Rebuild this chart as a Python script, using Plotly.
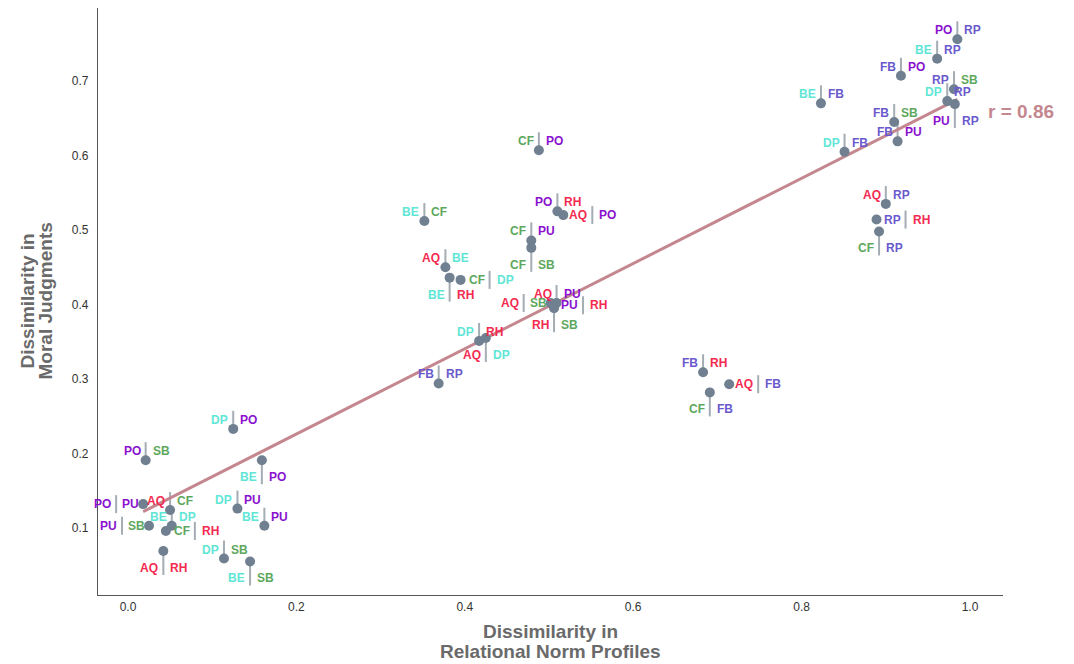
import numpy as np
import plotly.graph_objects as go

# Pairwise dissimilarities between relationship types
pair_left = ["PO", "DP", "BE", "PO", "AQ", "PU", "BE", "CF", "AQ", "DP", "BE", "DP", "BE",
             "BE", "PO", "AQ", "CF", "CF", "AQ", "BE", "CF", "AQ", "AQ", "PU", "RH",
             "DP", "AQ", "FB", "FB", "AQ", "CF", "AQ", "RP", "CF",
             "PO", "BE", "FB", "BE", "RP", "DP", "PU", "FB", "FB", "DP", "CF"]
pair_right = ["SB", "PO", "PO", "PU", "CF", "SB", "DP", "RH", "RH", "PU", "PU", "SB", "SB",
              "CF", "RH", "PO", "PU", "SB", "BE", "RH", "DP", "PU", "SB", "RH", "SB",
              "RH", "DP", "RP", "RH", "FB", "FB", "RP", "RH", "RP",
              "RP", "RP", "PO", "FB", "SB", "RP", "RP", "SB", "PU", "FB", "PO"]
norm_dissim = [0.021, 0.125, 0.159, 0.018, 0.050, 0.025, 0.052, 0.045, 0.042, 0.130, 0.162, 0.114, 0.145,
               0.352, 0.510, 0.517, 0.479, 0.479, 0.377, 0.382, 0.395, 0.509, 0.502, 0.506, 0.506,
               0.417, 0.425, 0.369, 0.683, 0.714, 0.691, 0.900, 0.889, 0.892,
               0.985, 0.961, 0.918, 0.823, 0.981, 0.973, 0.982, 0.910, 0.914, 0.851, 0.488]
moral_dissim = [0.191, 0.233, 0.191, 0.132, 0.124, 0.103, 0.103, 0.096, 0.069, 0.126, 0.103, 0.059, 0.055,
                0.512, 0.525, 0.520, 0.486, 0.476, 0.450, 0.436, 0.433, 0.402, 0.402, 0.399, 0.395,
                0.351, 0.355, 0.294, 0.309, 0.293, 0.282, 0.535, 0.514, 0.498,
                0.756, 0.730, 0.707, 0.670, 0.689, 0.673, 0.669, 0.645, 0.619, 0.605, 0.607]
label_side = ["up", "up", "down", "left", "up", "left", "up", "right", "down", "up", "up", "up", "down",
              "up", "up", "right", "up", "down", "up", "down", "right", "up", "left", "right", "down",
              "up", "down", "up", "up", "right", "down", "up", "right", "down",
              "up", "up", "up", "up", "up", "up", "down", "up", "up", "up", "up"]

x_ticks = [0.0, 0.2, 0.4, 0.6, 0.8, 1.0]
y_ticks = [0.1, 0.2, 0.3, 0.4, 0.5, 0.6, 0.7]
x_title = ["Dissimilarity in", "Relational Norm Profiles"]
y_title = ["Dissimilarity in", "Moral Judgments"]
r_value = 0.86

code_colors = {
    "PO": "#8a12cf", "PU": "#8a12cf",
    "RP": "#6a5acd", "FB": "#6a5acd",
    "BE": "#5fe6d6", "DP": "#5fe6d6",
    "SB": "#5ea85e", "CF": "#5ea85e",
    "AQ": "#f42a50", "RH": "#f42a50",
}
fit_color = "#c4878f"
point_color = "#708090"
sep_color = "#a4acb4"
title_color = "#6a6a6a"

fig = go.Figure()

# least-squares fit across the observed range
xs = np.array(norm_dissim)
ys = np.array(moral_dissim)
slope, intercept = np.polyfit(xs, ys, 1)
fx = np.array([xs.min(), xs.max()])
fig.add_trace(go.Scatter(x=fx, y=slope * fx + intercept, mode="lines",
                         line=dict(color=fit_color, width=3), hoverinfo="skip",
                         showlegend=False))

fig.add_trace(go.Scatter(x=norm_dissim, y=moral_dissim, mode="markers",
                         marker=dict(color=point_color, size=10, line=dict(width=0)),
                         showlegend=False))

# label geometry per side: separator (x, y0, y1) and text offsets, in pixels
geom = {
    "up":    dict(sx=0,   sy0=0,  sy1=18,  ty=9,   lx=-4,  rx=6),
    "down":  dict(sx=0,   sy0=0,  sy1=-24, ty=-17, lx=-4,  rx=6),
    "right": dict(sx=29,  sy0=-9, sy1=9,   ty=0,   lx=25,  rx=35),
    "left":  dict(sx=-27, sy0=-9, sy1=9,   ty=0,   lx=-31, rx=-22),
}

shapes = []
annotations = []
label_font = "Liberation Sans, Arial, sans-serif"
for xv, yv, a, b, side in zip(norm_dissim, moral_dissim, pair_left, pair_right, label_side):
    g = geom[side]
    shapes.append(dict(type="line", xref="x", yref="y", xsizemode="pixel", ysizemode="pixel",
                       xanchor=xv, yanchor=yv, x0=g["sx"], x1=g["sx"], y0=g["sy0"], y1=g["sy1"],
                       line=dict(color=sep_color, width=2), layer="below"))
    annotations.append(dict(x=xv, y=yv, xref="x", yref="y", text=f"<b>{a}</b>", showarrow=False,
                            xanchor="right", yanchor="middle", xshift=g["lx"], yshift=g["ty"],
                            borderpad=0,
                            font=dict(family=label_font, size=12, color=code_colors[a])))
    annotations.append(dict(x=xv, y=yv, xref="x", yref="y", text=f"<b>{b}</b>", showarrow=False,
                            xanchor="left", yanchor="middle", xshift=g["rx"], yshift=g["ty"],
                            borderpad=0,
                            font=dict(family=label_font, size=12, color=code_colors[b])))

annotations.append(dict(x=xs.max(), y=slope * xs.max() + intercept, xref="x", yref="y",
                        text=f"<b>r = {r_value:.2f}</b>", showarrow=False,
                        xanchor="left", yanchor="middle", xshift=29, yshift=-12,
                        font=dict(family=label_font, size=19, color=fit_color)))

# two-line axis titles with tight line spacing
for i, line in enumerate(x_title):
    annotations.append(dict(x=0.5, y=0, xref="paper", yref="paper", text=f"<b>{line}</b>",
                            showarrow=False, xanchor="center", yanchor="middle",
                            yshift=-36 - 20 * i,
                            font=dict(family=label_font, size=19, color=title_color)))
for i, line in enumerate(y_title):
    annotations.append(dict(x=0, y=0.5, xref="paper", yref="paper", text=f"<b>{line}</b>",
                            showarrow=False, xanchor="center", yanchor="middle", textangle=-90,
                            xshift=-71 + 18 * i,
                            font=dict(family=label_font, size=19, color=title_color)))

axis_common = dict(showgrid=False, zeroline=False, showline=True, linecolor="#555555",
                   linewidth=1.2, ticks="", tickfont=dict(family=label_font, size=12, color="#333333"),
                   mirror=False, automargin=False)

fig.update_layout(
    width=1074, height=664,
    margin=dict(l=98, r=71, t=8, b=69),
    paper_bgcolor="white", plot_bgcolor="white",
    shapes=shapes, annotations=annotations,
    xaxis=dict(range=[-0.0356, 1.0392], tickvals=x_ticks,
               ticktext=[f"{t:.1f}" for t in x_ticks], **axis_common),
    yaxis=dict(range=[0.010, 0.798], tickvals=y_ticks,
               ticktext=[f"{t:.1f}" for t in y_ticks], ticklabelstandoff=6, **axis_common),
)

fig.write_html("out.html")
